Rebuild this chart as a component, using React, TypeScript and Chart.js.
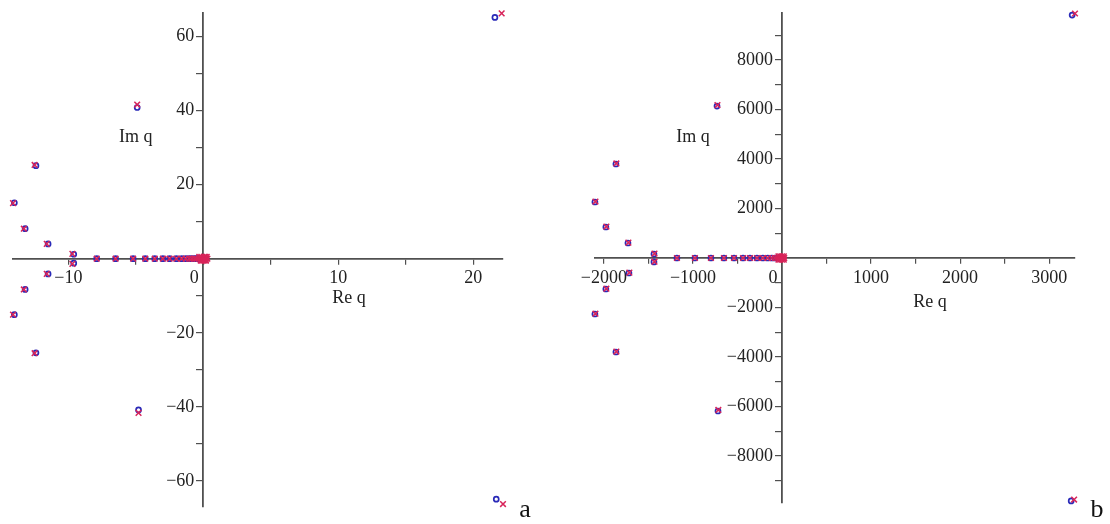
import React, { useEffect, useRef } from "react";
import { Chart, registerables } from "chart.js";
Chart.register(...registerables);

// ---------- Panel a ----------
const A_CIRCLE_RE = [-4.9, -4.8, -12.4, -12.4, -14.0, -14.0, -13.2, -13.2, -11.5, -11.5, -9.6, -9.6, 21.6, 21.7,
  -7.9, -6.5, -5.2, -4.3, -3.6, -3.0, -2.5, -2.0, -1.6, -1.3, -1.05, -0.85, -0.65, -0.5, -0.35, -0.22, -0.12, -0.05, 0];
const A_CIRCLE_IM = [40.8, -40.8, 25.1, -25.4, 15.1, -15.1, 8.1, -8.3, 4.0, -4.1, 1.2, -1.2, 65.1, -64.9,
  0, 0, 0, 0, 0, 0, 0, 0, 0, 0, 0, 0, 0, 0, 0, 0, 0, 0, 0];
const A_CROSS_RE = [-4.9, -4.8, -12.5, -12.5, -14.1, -14.1, -13.3, -13.3, -11.6, -11.6, -9.7, -9.7, 22.1, 22.2,
  -7.9, -6.5, -5.2, -4.3, -3.6, -3.0, -2.5, -2.0, -1.6, -1.3, -1.05, -0.85, -0.65, -0.5, -0.35, -0.22, -0.12, -0.05, 0,
  0.1, 0.2, 0.3, -0.3, -0.15, 0.05, 0.15, 0.25, -0.2, -0.1, 0, 0.1, 0.2];
const A_CROSS_IM = [41.6, -41.6, 25.3, -25.5, 15.0, -15.1, 8.1, -8.3, 4.0, -4.1, 1.3, -1.4, 66.2, -66.2,
  0, 0, 0, 0, 0, 0, 0, 0, 0, 0, 0, 0, 0, 0, 0, 0, 0, 0, 0,
  0, 0, 0, 0.5, 0.5, 0.5, 0.5, 0.5, -0.5, -0.5, -0.5, -0.5, -0.5];
const A_X_TICKS = [-10, -5, 0, 5, 10, 15, 20];
const A_X_LABELS = ["\u221210", "", "0\u2003", "", "10", "", "20"];
const A_Y_TICKS = [-60, -50, -40, -30, -20, -10, 10, 20, 30, 40, 50, 60];
const A_Y_LABELS = ["\u221260", "", "\u221240", "", "\u221220", "", "", "20", "", "40", "", "60"];

// ---------- Panel b ----------
const B_CIRCLE_RE = [-730, -719, -1865, -1865, -2101, -2101, -1978, -1978, -1730, -1719, -1438, -1438, 3258, 3247,
  -1180, -978, -798, -652, -539, -438, -360, -281, -215, -160, -115, -80, -50, -28, -12, -4, 0];
const B_CIRCLE_IM = [6141, -6182, 3798, -3798, 2263, -2263, 1252, -1252, 606, -606, 162, -160, 9818, -9818,
  0, 0, 0, 0, 0, 0, 0, 0, 0, 0, 0, 0, 0, 0, 0, 0, 0];
const B_CROSS_RE = [-725, -715, -1860, -1860, -2095, -2095, -1972, -1972, -1725, -1714, -1432, -1432, 3290, 3280,
  -1180, -978, -798, -652, -539, -438, -360, -281, -215, -160, -115, -80, -50, -28, -12, -4, 0, 10, 25,
  -40, -20, 0, 20, -40, -20, 0, 20];
const B_CROSS_IM = [6180, -6140, 3820, -3780, 2280, -2250, 1270, -1240, 620, -590, 180, -150, 9880, -9760,
  0, 0, 0, 0, 0, 0, 0, 0, 0, 0, 0, 0, 0, 0, 0, 0, 0, 0, 0,
  70, 70, 70, 70, -70, -70, -70, -70];
const B_X_TICKS = [-2000, -1500, -1000, -500, 0, 500, 1000, 1500, 2000, 2500, 3000];
const B_X_LABELS = ["\u22122000", "", "\u22121000", "", "0\u2003", "", "1000", "", "2000", "", "3000"];
const B_Y_TICKS = [-9000, -8000, -7000, -6000, -5000, -4000, -3000, -2000, -1000, 1000, 2000, 3000, 4000, 5000, 6000, 7000, 8000, 9000];
const B_Y_LABELS = ["", "\u22128000", "", "\u22126000", "", "\u22124000", "", "\u22122000", "", "", "2000", "", "4000", "", "6000", "", "8000", ""];

const CROSS_COLOR = "#d8245a";
const CIRCLE_COLOR = "#2a2ab8";
const AXIS_COLOR = "#505050";
const TEXT_COLOR = "#222222";
const FONT = "'Liberation Serif', 'DejaVu Serif', serif";
// gap between y tick labels and the vertical axis (Maple puts labels left of the tick marks)
const Y_LABEL_GAP = "\u2002";

type Panel = {
  circleRe: number[]; circleIm: number[]; crossRe: number[]; crossIm: number[];
  xTicks: number[]; xLabels: string[]; yTicks: number[]; yLabels: string[];
  xMin: number; xMax: number; yMin: number; yMax: number;
  padding: { left: number; right: number; top: number; bottom: number };
  imPos: [number, number]; rePos: [number, number]; letter: string;
};

const PANEL_A: Panel = {
  circleRe: A_CIRCLE_RE, circleIm: A_CIRCLE_IM, crossRe: A_CROSS_RE, crossIm: A_CROSS_IM,
  xTicks: A_X_TICKS, xLabels: A_X_LABELS, yTicks: A_Y_TICKS, yLabels: A_Y_LABELS,
  xMin: -14.1, xMax: 22.2, yMin: -67, yMax: 66.3,
  padding: { left: 13, right: 52, top: 13, bottom: 17 },
  imPos: [-5.0, 32.7], rePos: [10.8, -10.8], letter: "a",
};

const PANEL_B: Panel = {
  circleRe: B_CIRCLE_RE, circleIm: B_CIRCLE_IM, crossRe: B_CROSS_RE, crossIm: B_CROSS_IM,
  xTicks: B_X_TICKS, xLabels: B_X_LABELS, yTicks: B_Y_TICKS, yLabels: B_Y_LABELS,
  xMin: -2100, xMax: 3290, yMin: -9900, yMax: 9900,
  padding: { left: 40, right: 35, top: 13, bottom: 21 },
  imPos: [-1000, 4889], rePos: [1663, -1778], letter: "b",
};

function makeConfig(p: Panel): any {
  const textPlugin = {
    id: "mapleText",
    afterDraw(chart: any) {
      const ctx = chart.ctx;
      const xs = chart.scales.x;
      const ys = chart.scales.y;
      ctx.save();
      ctx.fillStyle = TEXT_COLOR;
      ctx.font = `18px ${FONT}`;
      ctx.textAlign = "center";
      ctx.textBaseline = "middle";
      ctx.fillText("Im q", xs.getPixelForValue(p.imPos[0]), ys.getPixelForValue(p.imPos[1]));
      ctx.fillText("Re q", xs.getPixelForValue(p.rePos[0]), ys.getPixelForValue(p.rePos[1]));
      ctx.font = `26px ${FONT}`;
      ctx.fillStyle = "#111111";
      ctx.textBaseline = "alphabetic";
      const ca = chart.chartArea;
      ctx.fillText(p.letter, ca.right + 22, 517);
      ctx.restore();
    },
  };
  const tickFont = { family: FONT, size: 18 };
  return {
    type: "scatter",
    data: {
      datasets: [
        {
          data: p.crossRe.map((x, i) => ({ x, y: p.crossIm[i] })),
          pointStyle: "crossRot",
          pointRadius: 4,
          borderColor: CROSS_COLOR,
          backgroundColor: CROSS_COLOR,
          pointBorderWidth: 1.5,
          clip: false,
        },
        {
          data: p.circleRe.map((x, i) => ({ x, y: p.circleIm[i] })),
          pointStyle: "circle",
          pointRadius: 2.5,
          borderColor: CIRCLE_COLOR,
          backgroundColor: "rgba(255,255,255,0)",
          pointBorderWidth: 1.7,
          clip: false,
        },
      ],
    },
    options: {
      responsive: false,
      animation: false,
      events: [],
      layout: { padding: p.padding },
      plugins: { legend: { display: false }, tooltip: { enabled: false } },
      scales: {
        x: {
          type: "linear",
          min: p.xMin,
          max: p.xMax,
          position: { y: 0 },
          afterBuildTicks: (s: any) => { s.ticks = p.xTicks.map((v) => ({ value: v })); },
          grid: { drawOnChartArea: false, drawTicks: true, tickLength: 5, color: AXIS_COLOR, lineWidth: 1.2 },
          border: { display: true, color: AXIS_COLOR, width: 1.8 },
          ticks: {
            autoSkip: false, maxRotation: 0, padding: 4, color: TEXT_COLOR, font: tickFont,
            callback: (_v: any, i: number) => p.xLabels[i],
          },
        },
        y: {
          type: "linear",
          min: p.yMin,
          max: p.yMax,
          position: { x: 0 },
          afterBuildTicks: (s: any) => { s.ticks = p.yTicks.map((v) => ({ value: v })); },
          grid: { drawOnChartArea: false, drawTicks: true, tickLength: 6, color: AXIS_COLOR, lineWidth: 1.2 },
          border: { display: true, color: AXIS_COLOR, width: 1.8 },
          ticks: {
            autoSkip: false, padding: 2, color: TEXT_COLOR, font: tickFont,
            callback: (_v: any, i: number) => (p.yLabels[i] ? p.yLabels[i] + Y_LABEL_GAP : ""),
          },
        },
      },
    },
    plugins: [textPlugin],
  };
}

function PanelChart({ panel, left }: { panel: Panel; left: number }) {
  const ref = useRef<HTMLCanvasElement | null>(null);
  useEffect(() => {
    if (!ref.current) return;
    const chart = new Chart(ref.current, makeConfig(panel));
    return () => chart.destroy();
  }, [panel]);
  return (
    <canvas
      ref={ref}
      width={555}
      height={524}
      style={{ position: "absolute", left, top: 0, width: 555, height: 524 }}
    />
  );
}

export default function App() {
  return (
    <div style={{ position: "absolute", left: 0, top: 0, width: 1110, height: 524, background: "#ffffff", overflow: "hidden" }}>
      <PanelChart panel={PANEL_A} left={0} />
      <PanelChart panel={PANEL_B} left={555} />
    </div>
  );
}
